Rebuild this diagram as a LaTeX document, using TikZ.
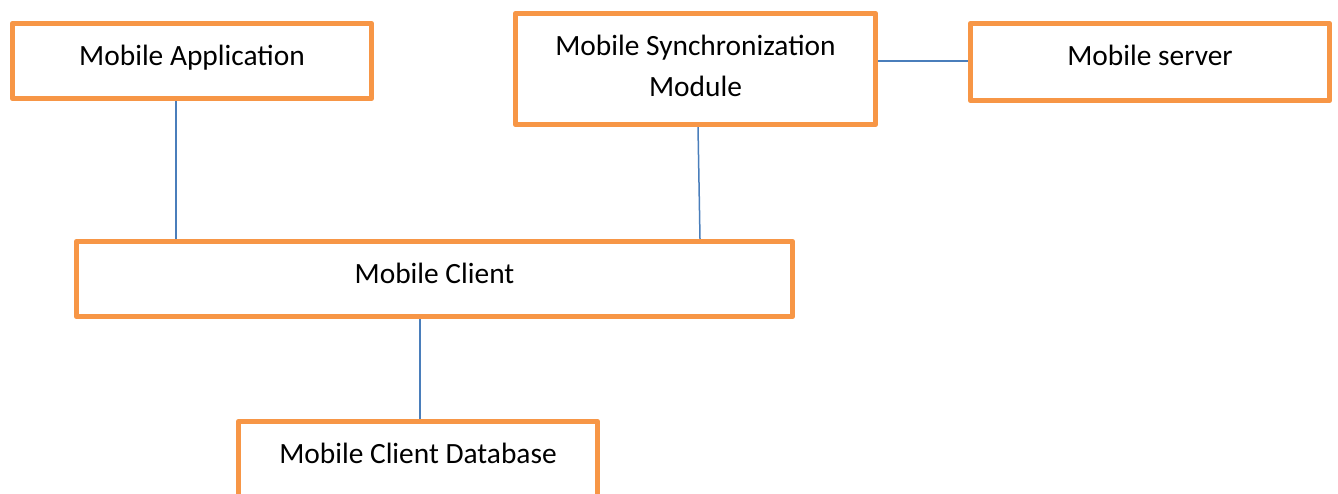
\documentclass[tikz,border=0pt]{standalone}
\usepackage{fontspec}
\setmainfont{Carlito}
\usetikzlibrary{calc}
\definecolor{boxorange}{HTML}{F79646}
\definecolor{linkblue}{HTML}{4A7EBB}
\begin{document}
\begin{tikzpicture}[x=1pt,y=-1pt,
  box/.style={draw=boxorange, line width=4.8pt, line join=round, fill=white, inner sep=0pt, rectangle},
  txt/.style={anchor=base, inner sep=0pt, font=\fontsize{29.4}{41}\selectfont, align=center, text=black},
  link/.style={draw=linkblue, line width=1.5pt}]
\useasboundingbox (0,0) rectangle (1338,493);
\clip (0,0) rectangle (1338,493);
% boxes
\node[box, minimum width=359.4pt, minimum height=75.4pt] (app) at (192,61) {};
\node[box, minimum width=360.4pt, minimum height=111.4pt] (sync) at (695.5,69) {};
\node[box, minimum width=359.4pt, minimum height=77.4pt] (server) at (1150,62) {};
\node[box, minimum width=716.4pt, minimum height=75.4pt] (client) at (434.5,279) {};
\node[box, minimum width=359.4pt, minimum height=75.4pt] (db) at (418,459) {};
% texts
\node[txt] (apptxt) at (192,65) {Mobile Application};
\node[txt] (synctxt1) at (695.5,55) {Mobile Synchronization};
\node[txt] (synctxt2) at (695.5,96) {Module};
\node[txt] (servertxt) at (1150,65) {Mobile server};
\node[txt] (clienttxt) at (434.5,283) {Mobile Client};
\node[txt] (dbtxt) at (418,463) {Mobile Client Database};
% connectors
\coordinate (a1) at ($(app.south)+(-16,0)$);
\draw[link] (a1) -- (a1 |- client.north);
\coordinate (s1) at ($(sync.south)+(2.5,0)$);
\coordinate (c1) at ($(client.north)+(265.5,0)$);
\draw[link] (s1) -- (c1);
\coordinate (s2) at ($(sync.east)+(0,-8)$);
\draw[link] (s2) -- (s2 -| server.west);
\coordinate (c2) at ($(client.south)+(-14.5,0)$);
\draw[link] (c2) -- (c2 |- db.north);
\end{tikzpicture}
\end{document}
